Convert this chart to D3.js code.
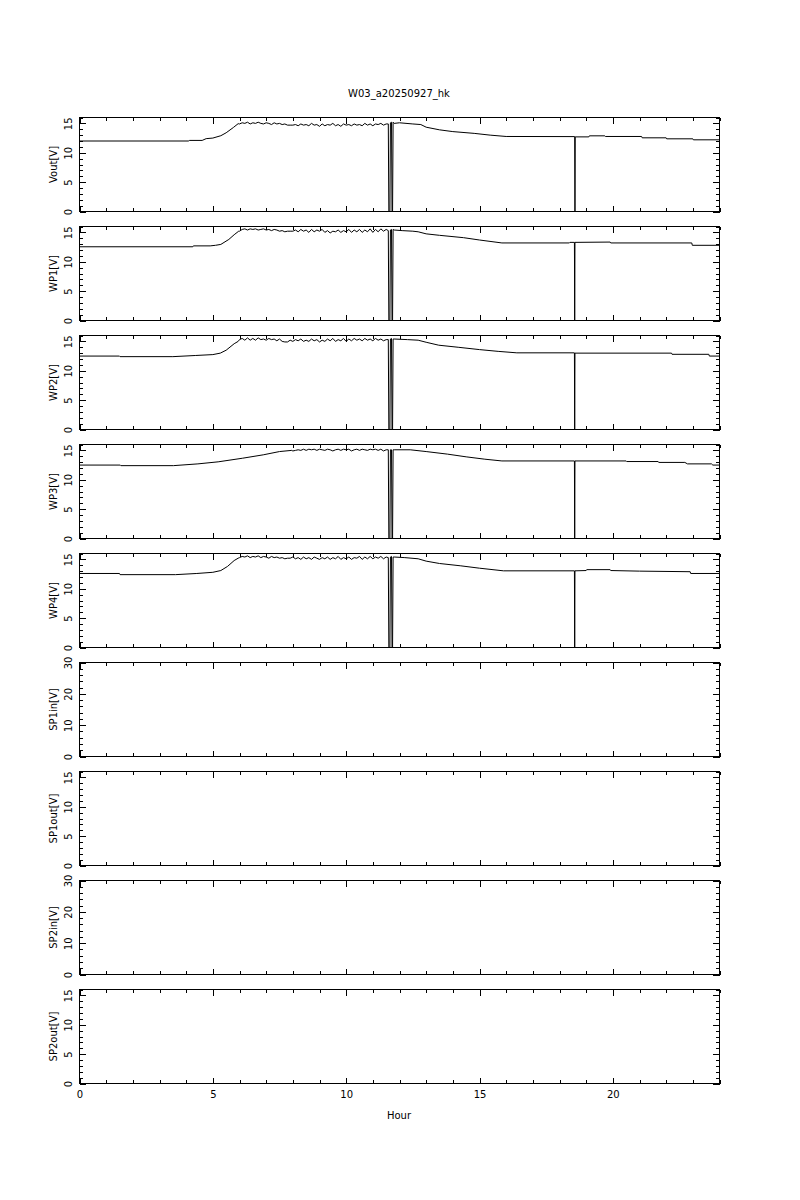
<!DOCTYPE html>
<html>
<head>
<meta charset="utf-8">
<script src="https://cdn.jsdelivr.net/npm/d3@7"></script>
<style>
  body { margin: 0; background: #fff; }
  text { font-family: "DejaVu Sans", sans-serif; font-size: 10px; fill: #000; }
</style>
</head>
<body>
<div id="chart"></div>
<script>
// panel labels and y ranges, top to bottom
const panelLabels = ['Vout[V]', 'WP1[V]', 'WP2[V]', 'WP3[V]', 'WP4[V]', 'SP1in[V]', 'SP1out[V]', 'SP2in[V]', 'SP2out[V]']
const panelMax = [16, 16, 16, 16, 16, 30, 16, 30, 16]
const xTicks = [0, 5, 10, 15, 20]

// [hour, volts] readings
const voutData = [
  [0, 12.0], [4.1, 12.0], [4.12, 12.1], [4.6, 12.1], [4.75, 12.4], [5.0, 12.5], [5.3, 12.9], [5.5, 13.4], [5.77, 14.3], [5.95, 14.95],
  [6.0, 14.9], [6.1, 15.1], [6.2, 15.0], [6.3, 15.2], [6.4, 14.9], [6.5, 15.1], [6.6, 15.0], [6.7, 15.2], [6.8, 15.0], [6.9, 14.9],
  [7.0, 15.1], [7.1, 15.0], [7.2, 14.8], [7.3, 15.1], [7.4, 14.9], [7.5, 15.0], [7.6, 14.8], [7.7, 14.9], [7.8, 14.7], [7.9, 14.7],
  [8.0, 14.7], [8.1, 14.8], [8.2, 14.6], [8.3, 14.9], [8.4, 14.7], [8.5, 14.8], [8.6, 14.6], [8.7, 15.0], [8.8, 14.7], [8.9, 14.8],
  [9.0, 14.5], [9.1, 14.9], [9.2, 14.6], [9.3, 14.8], [9.4, 14.7], [9.5, 15.0], [9.6, 14.6], [9.7, 14.8], [9.8, 14.5], [9.9, 14.9],
  [10.0, 14.7], [10.1, 14.8], [10.2, 14.6], [10.3, 14.9], [10.4, 14.7], [10.5, 14.8], [10.6, 14.6], [10.7, 15.0], [10.8, 14.7], [10.9, 14.9],
  [11.0, 14.6], [11.1, 14.9], [11.2, 14.8], [11.3, 15.0], [11.4, 14.7], [11.5, 14.9], [11.58, 14.9],
  [11.6, 0], [11.64, 0], [11.66, 15.1], [11.7, 15.2], [11.72, 0], [11.74, 0], [11.76, 15.2],
  [11.8, 15.0], [12.0, 15.1], [12.5, 14.9], [12.8, 14.8], [13.0, 14.35], [13.5, 13.9], [14.0, 13.6], [14.8, 13.3], [15.4, 13.0], [16.0, 12.77],
  [18.57, 12.75], [18.58, 0], [18.59, 12.7], [19.1, 12.7], [19.12, 12.88], [19.7, 12.88], [19.72, 12.77], [21.08, 12.77], [21.1, 12.54],
  [22.0, 12.54], [22.02, 12.37], [23.0, 12.37], [23.02, 12.2], [24, 12.2]
]

const wp1Data = [
  [0, 12.55], [4.25, 12.55], [4.27, 12.7], [4.9, 12.7], [5.1, 12.8], [5.3, 12.95], [5.6, 13.8], [5.8, 14.6], [5.97, 15.2],
  [6.0, 15.2], [6.1, 15.5], [6.2, 15.6], [6.3, 15.4], [6.4, 15.6], [6.5, 15.5], [6.6, 15.6], [6.7, 15.4], [6.8, 15.5], [6.9, 15.6],
  [7.0, 15.4], [7.1, 15.5], [7.2, 15.3], [7.3, 15.5], [7.4, 15.4], [7.5, 15.2], [7.6, 15.3], [7.7, 15.1], [7.8, 15.2], [7.9, 15.2],
  [8.0, 15.2], [8.1, 15.4], [8.2, 15.1], [8.3, 15.5], [8.4, 15.2], [8.5, 15.4], [8.6, 15.0], [8.7, 15.5], [8.8, 15.1], [8.9, 15.4],
  [9.0, 15.2], [9.1, 15.5], [9.2, 15.0], [9.3, 15.3], [9.4, 14.9], [9.5, 15.2], [9.6, 15.1], [9.7, 15.4], [9.8, 15.0], [9.9, 15.3],
  [10.0, 15.1], [10.1, 15.5], [10.2, 15.0], [10.3, 15.4], [10.4, 15.1], [10.5, 15.5], [10.6, 15.0], [10.7, 15.4], [10.8, 15.1], [10.9, 15.6],
  [11.0, 15.0], [11.1, 15.5], [11.2, 15.1], [11.3, 15.6], [11.4, 15.2], [11.5, 15.5], [11.58, 15.3],
  [11.6, 0], [11.64, 0], [11.66, 15.4], [11.7, 15.5], [11.72, 0], [11.74, 0], [11.76, 15.5],
  [11.8, 15.4], [12.1, 15.3], [12.5, 15.2], [12.7, 15.1], [13.0, 14.75], [13.5, 14.5], [14.4, 14.1], [15.0, 13.7], [15.84, 13.2],
  [18.37, 13.2], [18.39, 13.3], [18.56, 13.3], [18.57, 0], [18.58, 13.3], [19.9, 13.35], [19.92, 13.2], [22.96, 13.2], [22.98, 12.8], [24, 12.8]
]

const wp2Data = [
  [0, 12.5], [1.5, 12.5], [1.52, 12.4], [3.5, 12.4], [4.36, 12.6], [5.0, 12.75], [5.28, 13.0], [5.5, 13.5], [5.8, 14.6], [5.95, 15.0],
  [6.0, 15.3], [6.1, 15.5], [6.2, 15.2], [6.3, 15.6], [6.4, 15.2], [6.5, 15.5], [6.6, 15.2], [6.7, 15.6], [6.8, 15.3], [6.9, 15.4],
  [7.0, 15.2], [7.1, 15.5], [7.2, 15.3], [7.3, 15.4], [7.4, 15.1], [7.5, 15.4], [7.6, 15.0], [7.7, 14.9], [7.8, 14.9], [7.9, 15.2],
  [8.0, 15.0], [8.1, 15.3], [8.2, 15.1], [8.3, 15.4], [8.4, 15.0], [8.5, 15.2], [8.6, 15.0], [8.7, 15.4], [8.8, 15.1], [8.9, 15.3],
  [9.0, 14.9], [9.1, 15.2], [9.2, 15.0], [9.3, 15.4], [9.4, 15.1], [9.5, 15.5], [9.6, 15.0], [9.7, 15.3], [9.8, 15.1], [9.9, 15.5],
  [10.0, 15.0], [10.1, 15.4], [10.2, 15.1], [10.3, 15.5], [10.4, 15.2], [10.5, 15.4], [10.6, 15.1], [10.7, 15.5], [10.8, 15.2], [10.9, 15.4],
  [11.0, 15.1], [11.1, 15.5], [11.2, 15.2], [11.3, 15.4], [11.4, 15.1], [11.5, 15.3], [11.58, 15.3],
  [11.6, 0], [11.64, 0], [11.66, 15.4], [11.7, 15.5], [11.72, 0], [11.74, 0], [11.76, 15.4],
  [11.8, 15.4], [12.3, 15.3], [12.7, 15.2], [13.0, 14.85], [13.47, 14.35], [14.2, 14.0], [15.0, 13.6], [15.7, 13.3], [16.4, 13.05],
  [18.56, 13.05], [18.57, 0], [18.58, 13.0], [22.2, 13.0], [22.22, 12.8], [23.6, 12.8], [23.62, 12.5], [24, 12.5]
]

const wp3Data = [
  [0, 12.5], [1.53, 12.5], [1.55, 12.4], [3.52, 12.4], [4.44, 12.7], [5.2, 13.05], [6.12, 13.67], [6.89, 14.24], [7.5, 14.8], [7.96, 15.0],
  [8.0, 14.9], [8.1, 15.0], [8.2, 15.1], [8.3, 15.0], [8.4, 15.2], [8.5, 15.0], [8.6, 15.2], [8.7, 15.1], [8.8, 15.2], [8.9, 15.0],
  [9.0, 15.2], [9.1, 15.1], [9.2, 15.0], [9.3, 15.2], [9.4, 15.1], [9.5, 14.9], [9.6, 15.1], [9.7, 15.2], [9.8, 15.0], [9.9, 15.2],
  [10.0, 15.1], [10.1, 15.2], [10.2, 14.9], [10.3, 15.1], [10.4, 15.2], [10.5, 15.0], [10.6, 15.2], [10.7, 15.1], [10.8, 15.0], [10.9, 15.2],
  [11.0, 15.1], [11.1, 15.2], [11.2, 15.0], [11.3, 15.2], [11.4, 14.9], [11.5, 15.1], [11.58, 15.1],
  [11.6, 0], [11.64, 0], [11.66, 15.1], [11.7, 15.1], [11.72, 0], [11.74, 0], [11.76, 15.1],
  [11.8, 15.1], [12.4, 15.1], [13.0, 14.8], [13.8, 14.36], [14.5, 13.9], [15.2, 13.5], [15.84, 13.2],
  [18.56, 13.2], [18.57, 0], [18.58, 13.2], [20.5, 13.2], [20.52, 13.1], [21.7, 13.1], [21.72, 12.95], [22.7, 12.95], [22.8, 12.7],
  [23.7, 12.7], [23.75, 12.5], [24, 12.5]
]

const wp4Data = [
  [0, 12.6], [1.5, 12.6], [1.52, 12.4], [3.6, 12.4], [4.4, 12.6], [5.0, 12.8], [5.3, 13.1], [5.55, 13.8], [5.8, 14.8], [5.95, 15.2],
  [6.0, 15.3], [6.1, 15.5], [6.2, 15.4], [6.3, 15.6], [6.4, 15.3], [6.5, 15.5], [6.6, 15.4], [6.7, 15.6], [6.8, 15.3], [6.9, 15.5],
  [7.0, 15.4], [7.1, 15.2], [7.2, 15.5], [7.3, 15.3], [7.4, 15.4], [7.5, 15.2], [7.6, 15.3], [7.7, 15.1], [7.8, 15.2], [7.9, 15.2],
  [8.0, 15.4], [8.1, 15.1], [8.2, 15.3], [8.3, 15.0], [8.4, 15.4], [8.5, 15.1], [8.6, 15.3], [8.7, 15.0], [8.8, 15.4], [8.9, 15.2],
  [9.0, 15.0], [9.1, 15.3], [9.2, 15.1], [9.3, 15.4], [9.4, 15.0], [9.5, 15.3], [9.6, 15.1], [9.7, 15.5], [9.8, 15.0], [9.9, 15.3],
  [10.0, 15.1], [10.1, 15.4], [10.2, 15.0], [10.3, 15.3], [10.4, 15.2], [10.5, 15.5], [10.6, 15.0], [10.7, 15.4], [10.8, 15.1], [10.9, 15.5],
  [11.0, 15.1], [11.1, 15.4], [11.2, 15.2], [11.3, 15.5], [11.4, 15.1], [11.5, 15.4], [11.58, 15.3],
  [11.6, 0], [11.64, 0], [11.66, 15.4], [11.7, 15.5], [11.72, 0], [11.74, 0], [11.76, 15.4],
  [11.8, 15.4], [12.2, 15.3], [12.7, 15.1], [13.0, 14.7], [13.5, 14.3], [14.3, 13.9], [15.0, 13.5], [15.9, 13.05],
  [18.56, 13.05], [18.57, 0], [18.58, 13.05], [19.0, 13.1], [19.02, 13.25], [19.9, 13.25], [19.92, 13.1], [21.0, 13.0],
  [22.9, 12.9], [22.92, 12.6], [24, 12.6]
]

// SP panels have no readings
const panelData = [voutData, wp1Data, wp2Data, wp3Data, wp4Data, [], [], [], []]

const width = 800, height = 1200
const left = 79.5, right = 719.5
const firstTop = 117.5, panelH = 94, step = 109

const svg = d3.select('#chart').append('svg')
  .attr('width', width)
  .attr('height', height)

svg.append('rect').attr('width', width).attr('height', height).attr('fill', '#fff')

svg.append('text')
  .attr('x', 399).attr('y', 97)
  .attr('text-anchor', 'middle')
  .text('W03_a20250927_hk')

const x = d3.scaleLinear().domain([0, 24]).range([left, right])

panelLabels.forEach((label, i) => {
  const top = firstTop + i * step
  const max = panelMax[i]
  const y = d3.scaleLinear().domain([0, max]).range([top + panelH, top])
  const major = max === 30 ? 10 : 5
  const minor = max === 30 ? 2 : 1
  const yMajor = d3.range(0, max + 0.001, major)
  const yMinor = d3.range(0, max + 0.001, minor).filter(v => v % major !== 0)
  const xMinor = d3.range(0, 24.001, 1).filter(v => v % 5 !== 0)
  const isLast = i === panelLabels.length - 1

  const g = svg.append('g').attr('class', 'panel')

  // inward ticks on all four sides
  const addAxis = (axis, transform) => {
    const a = g.append('g').attr('transform', transform).call(axis)
    a.select('.domain').remove()
    a.selectAll('line').attr('stroke', '#000').attr('shape-rendering', 'crispEdges')
    return a
  }

  const yl = addAxis(d3.axisLeft(y).tickValues(yMajor).tickSize(-6.5).tickFormat(d3.format('d')), `translate(${left},0)`)
  yl.selectAll('text')
    .attr('x', null).attr('y', null)
    .attr('dy', '0.35em')
    .attr('text-anchor', 'middle')
    .attr('transform', 'translate(-11.5,0) rotate(-90)')
    .style('font-family', '"DejaVu Sans", sans-serif')
    .style('font-size', '10px')
  addAxis(d3.axisLeft(y).tickValues(yMinor).tickSize(-3.5).tickFormat(''), `translate(${left},0)`)
  addAxis(d3.axisRight(y).tickValues(yMajor).tickSize(-6.5).tickFormat(''), `translate(${right},0)`)
  addAxis(d3.axisRight(y).tickValues(yMinor).tickSize(-3.5).tickFormat(''), `translate(${right},0)`)

  addAxis(d3.axisTop(x).tickValues(xTicks).tickSize(-6).tickFormat(''), `translate(0,${top})`)
  addAxis(d3.axisTop(x).tickValues(xMinor).tickSize(-3.5).tickFormat(''), `translate(0,${top})`)
  const xb = addAxis(d3.axisBottom(x).tickValues(xTicks).tickSize(-6).tickPadding(7)
    .tickFormat(isLast ? d3.format('d') : ''), `translate(0,${top + panelH})`)
  xb.selectAll('text')
    .style('font-family', '"DejaVu Sans", sans-serif')
    .style('font-size', '10px')
  addAxis(d3.axisBottom(x).tickValues(xMinor).tickSize(-3.5).tickFormat(''), `translate(0,${top + panelH})`)

  // frame
  g.append('rect')
    .attr('x', left).attr('y', top)
    .attr('width', right - left).attr('height', panelH)
    .attr('fill', 'none').attr('stroke', '#000')
    .attr('shape-rendering', 'crispEdges')

  // axis title
  g.append('text')
    .attr('transform', `translate(53,${top + panelH / 2}) rotate(-90)`)
    .attr('dy', '0.35em')
    .attr('text-anchor', 'middle')
    .text(label)

  const data = panelData[i]
  if (data.length) {
    const line = d3.line()
      .x(d => x(d[0]))
      .y(d => y(d[1]))
    g.append('path')
      .datum(data)
      .attr('d', line)
      .attr('fill', 'none')
      .attr('stroke', '#000')
      .attr('stroke-width', 1)
  }
})

svg.append('text')
  .attr('x', 399).attr('y', 1119)
  .attr('text-anchor', 'middle')
  .text('Hour')
</script>
</body>
</html>
